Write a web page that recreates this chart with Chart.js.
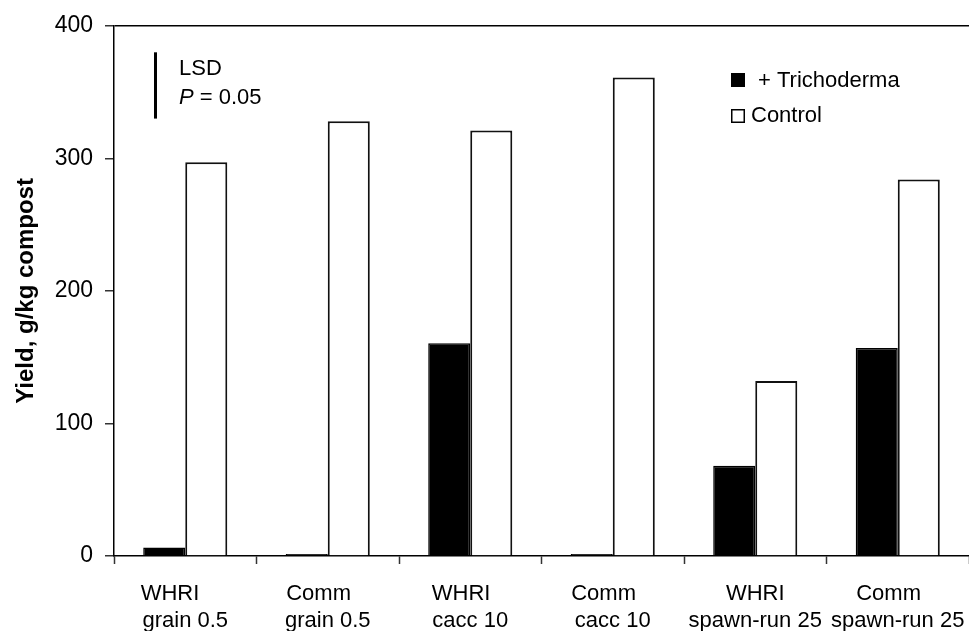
<!DOCTYPE html>
<html>
<head>
<meta charset="utf-8">
<script src="https://cdn.jsdelivr.net/npm/chart.js@4/dist/chart.umd.min.js"></script>
<style>
  html, body { margin: 0; padding: 0; background: #fff; }
  #wrap { width: 969px; height: 631px; }
</style>
</head>
<body>
<div id="wrap"><canvas id="c" width="969" height="631"></canvas></div>
<script>
// Spawn / compost treatments (two-line labels)
const categories = [
  ["WHRI     ", "grain 0.5"],
  ["Comm   ", "grain 0.5"],
  ["WHRI   ", "cacc 10"],
  ["Comm   ", "cacc 10"],
  ["WHRI", "spawn-run 25"],
  ["Comm   ", "spawn-run 25"]
];
// Mushroom yield, g/kg compost
const trichoderma = [6.5, 1.5, 160.5, 1.5, 68, 157];
const control     = [297, 328, 321, 361, 132, 284];
const yTicks = [0, 100, 200, 300, 400];
// Least significant difference (P = 0.05)
const lsd = 50;
const lsdTop = 380;

const FONT = "'Liberation Sans', Arial, Helvetica, sans-serif";

// LSD marker and legend drawn on top of the plot area
const annotations = {
  id: 'annotations',
  afterDatasetsDraw(chart) {
    const ctx = chart.ctx;
    const y = chart.scales.y;
    ctx.save();
    // LSD bar
    ctx.strokeStyle = '#000';
    ctx.lineWidth = 3;
    ctx.beginPath();
    ctx.moveTo(155.5, y.getPixelForValue(lsdTop));
    ctx.lineTo(155.5, y.getPixelForValue(lsdTop - lsd));
    ctx.stroke();
    ctx.fillStyle = '#000';
    ctx.textBaseline = 'middle';
    ctx.textAlign = 'left';
    ctx.font = '22px ' + FONT;
    ctx.fillText('LSD', 179, 69);
    ctx.font = 'italic 22px ' + FONT;
    ctx.fillText('P', 179, 98);
    const pw = ctx.measureText('P').width;
    ctx.font = '22px ' + FONT;
    ctx.fillText(' = 0.05', 179 + pw, 98);

    // Legend
    ctx.fillStyle = '#000';
    ctx.fillRect(731, 73, 14, 14);
    ctx.fillText('+ Trichoderma', 758, 81);
    ctx.fillStyle = '#fff';
    ctx.fillRect(731, 109, 14, 14);
    ctx.lineWidth = 1.5;
    ctx.strokeRect(731.75, 109.75, 12.5, 12.5);
    ctx.fillStyle = '#000';
    ctx.fillText('Control', 751, 116);
    ctx.restore();
  }
};

new Chart(document.getElementById('c'), {
  type: 'bar',
  data: {
    labels: categories,
    datasets: [
      {
        label: '+ Trichoderma',
        data: trichoderma,
        backgroundColor: '#000',
        borderColor: '#000',
        borderWidth: 1.5
      },
      {
        label: 'Control',
        data: control,
        backgroundColor: '#fff',
        borderColor: '#111',
        borderWidth: 2
      }
    ]
  },
  options: {
    responsive: false,
    animation: false,
    devicePixelRatio: 1,
    layout: { padding: { top: 25, right: 0, left: 0, bottom: 0 } },
    datasets: { bar: { categoryPercentage: 0.59, barPercentage: 1.0 } },
    plugins: {
      legend: { display: false },
      tooltip: { enabled: false }
    },
    scales: {
      x: {
        offset: true,
        grid: {
          offset: true,
          drawOnChartArea: false,
          drawTicks: true,
          tickLength: 8,
          tickColor: '#333',
          tickWidth: 1.5
        },
        border: { color: '#000', width: 1.5 },
        ticks: {
          color: '#000',
          font: { family: FONT, size: 22, lineHeight: '27px' },
          padding: 16,
          maxRotation: 0,
          autoSkip: false
        },
        afterFit(scale) {
          scale.height = 75;
          scale.paddingLeft = 0;
          scale.paddingRight = 0;
        }
      },
      y: {
        min: 0,
        max: 400,
        afterBuildTicks(scale) { scale.ticks = yTicks.map(v => ({ value: v })); },
        grid: {
          color: ctx => (ctx.tick && ctx.tick.value === 400 ? '#000' : 'rgba(0,0,0,0)'),
          lineWidth: 1.5,
          tickColor: '#333',
          tickLength: 9,
          tickWidth: 1.5
        },
        border: { color: '#000', width: 1.5 },
        ticks: {
          color: '#000',
          font: { family: FONT, size: 23 },
          padding: 12
        },
        title: {
          display: true,
          text: 'Yield, g/kg compost',
          color: '#000',
          font: { family: FONT, size: 24, weight: 'bold' },
          padding: { top: 12, bottom: 0 }
        },
        afterFit(scale) { scale.width = 114; }
      }
    }
  },
  plugins: [annotations]
});
</script>
</body>
</html>
